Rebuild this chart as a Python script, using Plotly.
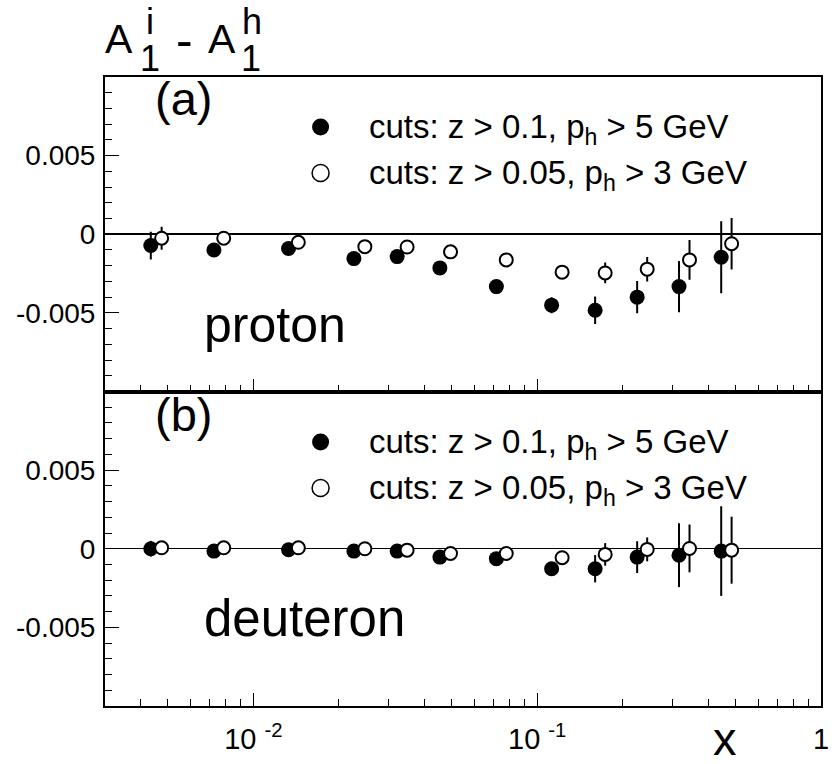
import plotly.graph_objects as go
from plotly.subplots import make_subplots

# Bjorken-x bin centres for the two sets of hadron cuts
x_tight = [0.00435, 0.00726, 0.0133, 0.0226, 0.0321, 0.0454, 0.0718, 0.1124, 0.160, 0.225, 0.316, 0.445]
x_loose = [0.00475, 0.00786, 0.0144, 0.0247, 0.0348, 0.0495, 0.0778, 0.1224, 0.1736, 0.2441, 0.3441, 0.4842]

# proton: A1(inclusive) - A1(hadron)
p_tight = [-0.00072, -0.00100, -0.00091, -0.00155, -0.00142, -0.00214, -0.00333, -0.00451, -0.00483, -0.00400, -0.00333, -0.00146]
p_tight_err = [0.00088, 0.00040, 0.00038, 0.00038, 0.00040, 0.00040, 0.00042, 0.00051, 0.00087, 0.00102, 0.00163, 0.00229]
p_loose = [-0.00025, -0.00025, -0.00051, -0.00079, -0.00081, -0.00112, -0.00163, -0.00241, -0.00246, -0.00222, -0.00163, -0.00060]
p_loose_err = [0.00073, 0.00030, 0.00030, 0.00030, 0.00030, 0.00032, 0.00035, 0.00040, 0.00066, 0.00078, 0.00127, 0.00164]

# deuteron: A1(inclusive) - A1(hadron)
d_tight = [0.0, -0.00015, -0.00006, -0.00015, -0.00015, -0.00053, -0.00063, -0.00127, -0.00127, -0.00053, -0.00041, -0.00015]
d_tight_err = [0.00050, 0.00030, 0.00030, 0.00030, 0.00030, 0.00032, 0.00035, 0.00040, 0.00087, 0.00101, 0.00203, 0.00285]
d_loose = [0.00006, 0.00006, 0.00006, 0.0, -0.00009, -0.00030, -0.00030, -0.00057, -0.00036, -0.00004, 0.00002, -0.00009]
d_loose_err = [0.00030, 0.00030, 0.00030, 0.00030, 0.00030, 0.00030, 0.00032, 0.00035, 0.00072, 0.00076, 0.00152, 0.00213]

label_tight = "cuts: z > 0.1, p<sub>h</sub> > 5 GeV"
label_loose = "cuts: z > 0.05, p<sub>h</sub> > 3 GeV"

x_major = [0.01, 0.1, 1]
x_major_text = ["10 <sup>-2</sup>", "10 <sup>-1</sup>", "1"]
x_minor = [m * d for d in (0.001, 0.01, 0.1) for m in range(2, 10) if m * d > 0.003]
y_major = [-0.005, 0, 0.005]
y_major_text = ["-0.005", "0", "0.005"]

FONT = "Liberation Sans, Arial, Helvetica, sans-serif"
W, H = 836, 764
L, R, T, B = 105, 7, 77, 58
PW, PH = W - L - R, H - T - B


def px(x):
    return (x - L) / PW


def py(y):
    return (H - B - y) / PH


fig = make_subplots(rows=2, cols=1, vertical_spacing=0)

panels = [
    (1, p_tight, p_tight_err, p_loose, p_loose_err),
    (2, d_tight, d_tight_err, d_loose, d_loose_err),
]
for row, yt, et, yl, el in panels:
    fig.add_trace(go.Scatter(
        x=x_tight, y=yt, mode="markers",
        marker=dict(symbol="circle", size=15, color="black", line=dict(width=0)),
        error_y=dict(type="data", array=et, visible=True, color="black", thickness=2, width=0),
        showlegend=False), row=row, col=1)
    fig.add_trace(go.Scatter(
        x=x_loose, y=yl, mode="markers",
        marker=dict(symbol="circle", size=13, color="white", line=dict(width=2, color="black")),
        error_y=dict(type="data", array=el, visible=True, color="black", thickness=2, width=0),
        showlegend=False), row=row, col=1)

xax = dict(type="log", range=[-2.5229, 0], tickmode="array", tickvals=x_major, ticktext=x_major_text,
           ticks="inside", ticklen=13, tickwidth=1, tickcolor="black",
           minor=dict(tickmode="array", tickvals=x_minor, ticks="inside", ticklen=7,
                      tickwidth=1, tickcolor="black", showgrid=False),
           showline=True, mirror=True, linewidth=2, linecolor="black",
           showgrid=False, zeroline=False,
           tickfont=dict(family=FONT, size=29, color="black"))
fig.update_xaxes(**xax)
fig.update_xaxes(showticklabels=False, row=1, col=1)
fig.update_xaxes(showticklabels=True, ticklabelstandoff=6, row=2, col=1)

yax = dict(range=[-0.01, 0.01], tickmode="array", tickvals=y_major, ticktext=y_major_text,
           ticks="inside", ticklen=14, tickwidth=1, tickcolor="black",
           minor=dict(dtick=0.001, ticks="inside", ticklen=7, tickwidth=1,
                      tickcolor="black", showgrid=False),
           showline=True, mirror=True, linewidth=2, linecolor="black",
           showgrid=False, zeroline=True, zerolinecolor="black",
           ticklabelstandoff=2,
           tickfont=dict(family=FONT, size=28, color="black"))
fig.update_yaxes(**yax)
fig.update_yaxes(zerolinewidth=2, row=1, col=1)
fig.update_yaxes(zerolinewidth=1, row=2, col=1)

ann = []
shapes = []


def text(s, x, y, size, xanchor="center", yanchor="middle"):
    ann.append(dict(text=s, x=px(x), y=py(y), xref="paper", yref="paper",
                    xanchor=xanchor, yanchor=yanchor, showarrow=False,
                    font=dict(family=FONT, size=size, color="black")))


# y-axis title: A_1^i - A_1^h with stacked scripts
text("A", 119, 39, 41)
text("i", 151, 22, 36)
text("1", 151, 58, 36)
text("-", 185, 40, 50)
text("A", 223, 39, 41)
text("h", 254, 22, 36)
text("1", 253, 58, 36)

# x-axis title
text("x", 732, 738, 47)

# panel labels
text("(a)", 184, 99, 47)
text("proton", 277, 325, 50)
text("(b)", 184, 414, 47)
text("deuteron", 307, 618, 51)

# legends in each panel
for top in (77, 392):
    for dy, lab, fill in ((50, label_tight, "black"), (96, label_loose, "white")):
        yc = top + dy
        shapes.append(dict(type="circle", xref="paper", yref="paper",
                           xsizemode="pixel", ysizemode="pixel",
                           xanchor=px(323), yanchor=py(yc),
                           x0=-8.5, x1=8.5, y0=-8.5, y1=8.5,
                           fillcolor=fill, line=dict(color="black", width=1.5 if fill == "white" else 0)))
        text(lab, 370, yc + 2, 33, xanchor="left")

fig.update_layout(width=W, height=H, margin=dict(l=L, r=R, t=T, b=B, pad=0),
                  paper_bgcolor="white", plot_bgcolor="white",
                  annotations=ann, shapes=shapes, showlegend=False)

fig.write_html("out.html")
